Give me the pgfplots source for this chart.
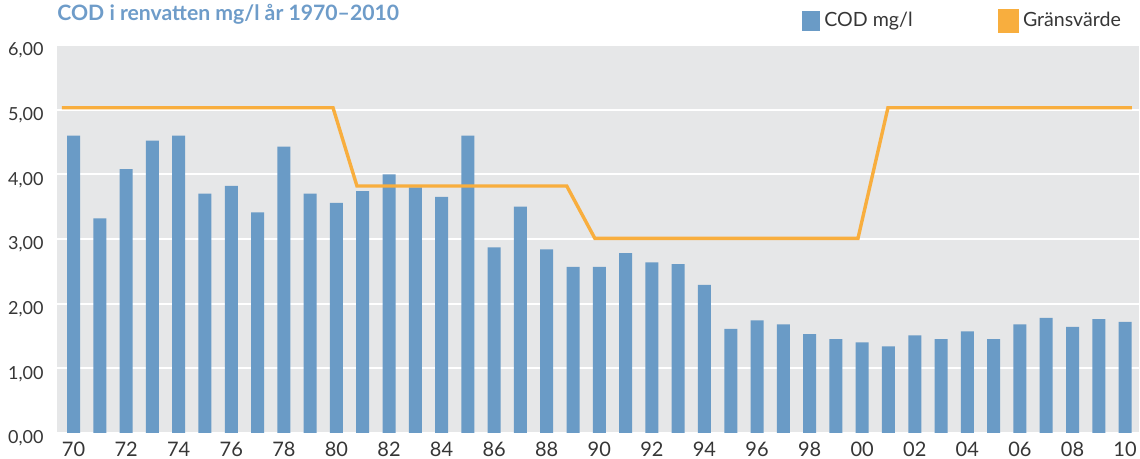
\documentclass[border=0pt]{standalone}
\usepackage{pgfplots}
\pgfplotsset{compat=1.18}
\usepackage{pgfplotstable}
\usepackage{fontspec}
\setmainfont{Lato}

\definecolor{barblue}{HTML}{6A9BC6}
\definecolor{limitorange}{HTML}{F8AE3E}
\definecolor{bggray}{HTML}{E6E7E8}
\definecolor{titleblue}{HTML}{6E9CC9}
\definecolor{textgray}{HTML}{363636}

% index 0 = 1970 ... 40 = 2010
\pgfplotstableread{
x  cod
0  4.60
1  3.32
2  4.08
3  4.52
4  4.60
5  3.70
6  3.82
7  3.41
8  4.43
9  3.70
10 3.56
11 3.74
12 4.00
13 3.80
14 3.65
15 4.60
16 2.87
17 3.50
18 2.84
19 2.57
20 2.57
21 2.78
22 2.64
23 2.61
24 2.29
25 1.61
26 1.74
27 1.68
28 1.53
29 1.45
30 1.40
31 1.34
32 1.51
33 1.45
34 1.57
35 1.45
36 1.68
37 1.78
38 1.64
39 1.76
40 1.72
}\codtable

\begin{document}
\begin{tikzpicture}
\useasboundingbox (-28.5pt,-13pt) rectangle (541.5pt,216.5pt);
\begin{axis}[
    scale only axis,
    width=541pt, height=194pt,
    xmin=-0.63, xmax=40.53,
    ymin=0, ymax=6,
    axis background/.style={fill=bggray},
    axis line style={draw=none},
    tick style={draw=none},
    ymajorgrids,
    grid style={white, line width=1pt},
    ytick={0,1,...,6},
    xtick={0,2,...,40},
    xticklabels={70,72,74,76,78,80,82,84,86,88,90,92,94,96,98,00,02,04,06,08,10},
    /pgf/number format/assume math mode=true,
    y tick label style={/pgf/number format/fixed, /pgf/number format/fixed zerofill,
        /pgf/number format/precision=2, /pgf/number format/use comma,
        font=\fontsize{9}{10}\selectfont, text=textgray, inner sep=0pt, anchor=east,
        xshift=-6.5pt, yshift=-2.8pt},
    x tick label style={font=\fontsize{10}{11}\selectfont, text=textgray, inner sep=0pt, anchor=north},
    xticklabel shift=4.3pt,
    legend columns=2,
    legend cell align=left,
    legend style={at={(0.6885,1.062)}, anchor=west, draw=none, fill=none,
        inner sep=0pt, text=textgray, font=\fontsize{9.8}{11}\selectfont,
        /tikz/every even column/.append style={column sep=40.5pt}},
]
\addplot[ybar, bar width=6.5pt, fill=barblue, draw=none,
    legend image code/.code={\fill[barblue] (0pt,-5pt) rectangle (9pt,5pt);}]
    table[x=x, y=cod] {\codtable};
\addlegendentry{COD mg/l}
\addplot[limitorange, line width=1.7pt, line join=miter,
    legend image code/.code={\fill[limitorange] (0pt,-5pt) rectangle (9pt,5pt);}]
    coordinates {(-0.44,5.03) (9.87,5.03) (10.78,3.82) (18.76,3.82) (19.83,3.01) (29.84,3.01) (30.98,5.03) (40.26,5.03)};
\addlegendentry{Gränsvärde}
\end{axis}
\node[anchor=base west, inner sep=0pt, text=titleblue, font=\fontsize{10.6}{12}\selectfont\bfseries]
    at (0pt,206.2pt) {COD i renvatten mg/l år 1970–2010};
\end{tikzpicture}
\end{document}
